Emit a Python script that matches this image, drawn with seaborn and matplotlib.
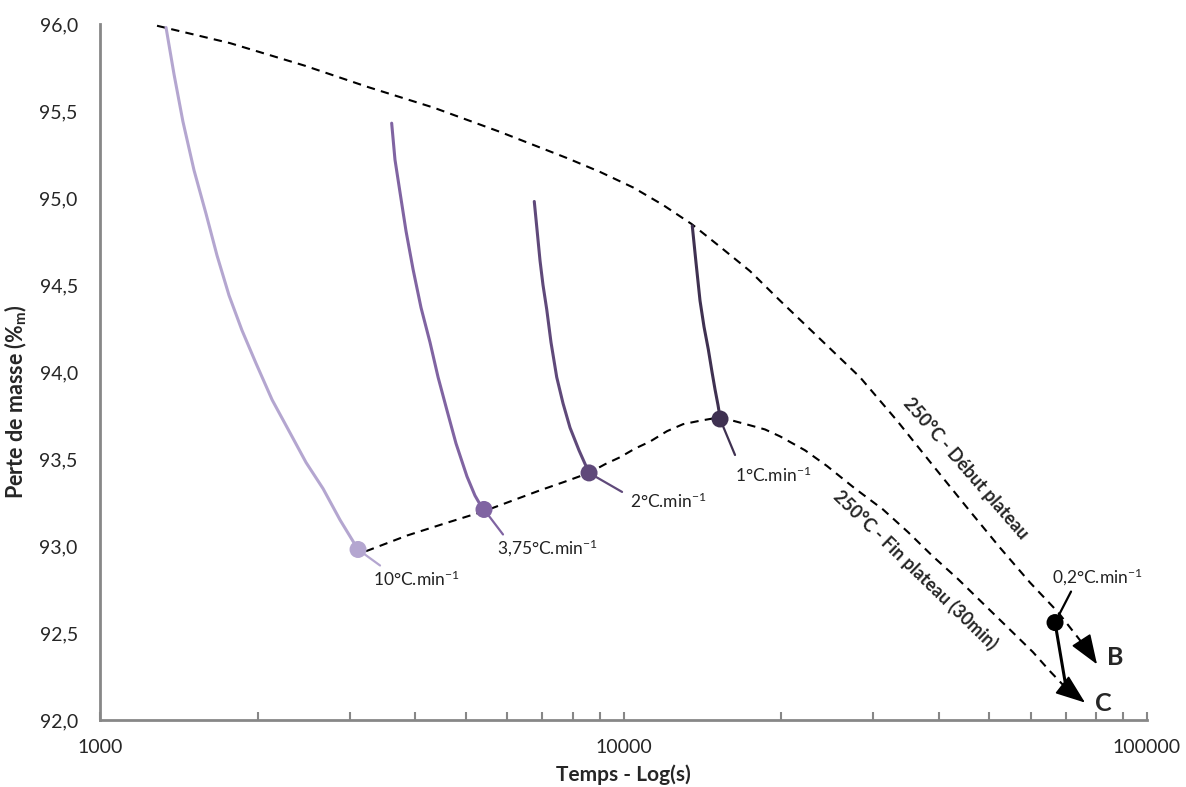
import pandas as pd
import seaborn as sns
import matplotlib.pyplot as plt
from matplotlib.ticker import FixedLocator, LogLocator, NullFormatter

# Heating curves (time in s, mass in %)
t_10 = [1337, 1385, 1440, 1512, 1594, 1673, 1764, 1867, 1986, 2132, 2307,
        2475, 2667, 2874, 3111]
m_10 = [95.98, 95.71, 95.44, 95.16, 94.91, 94.67, 94.44, 94.24, 94.05, 93.84,
        93.65, 93.48, 93.33, 93.15, 92.98]
t_375 = [3607, 3660, 3743, 3842, 3963, 4104, 4270, 4424, 4600, 4786, 5023,
         5203, 5414]
m_375 = [95.43, 95.22, 95.03, 94.81, 94.59, 94.37, 94.17, 93.97, 93.78, 93.59,
         93.40, 93.29, 93.20]
t_2 = [6754, 6835, 6927, 7018, 7134, 7270, 7455, 7664, 7904, 8222, 8594]
m_2 = [94.98, 94.82, 94.64, 94.50, 94.36, 94.17, 93.97, 93.82, 93.68, 93.55,
       93.42]
t_1 = [13532, 13755, 14001, 14249, 14521, 14760, 14956, 15154, 15288]
m_1 = [94.84, 94.63, 94.41, 94.26, 94.13, 94.00, 93.90, 93.81, 93.74]
t_02 = [66730, 70020]
m_02 = [92.56, 92.19]

# 250°C - start of plateau
debut_t = [1285, 1772, 2464, 3232, 4332, 5809, 7792, 9019, 10440, 11898,
           13500, 15288, 17443, 19910, 23740, 28300, 33310, 39070, 45330,
           52390, 59770, 67600, 77140]
debut_m = [95.99, 95.89, 95.76, 95.64, 95.52, 95.38, 95.23, 95.15, 95.06,
           94.96, 94.85, 94.72, 94.58, 94.41, 94.19, 93.97, 93.72, 93.46,
           93.22, 92.99, 92.79, 92.62, 92.40]
debut_tip = (80260, 92.32)

# 250°C - end of plateau (30 min)
fin_t = [3222, 3858, 4560, 5414, 6124, 6927, 7732, 8594, 9220, 9847, 10520,
         11235, 12110, 12990, 14001, 15288, 17140, 18630, 19910, 22220, 24470,
         27690, 31310, 34950, 39010, 43550, 48610, 54270, 60560, 65280, 69710]
fin_m = [92.97, 93.06, 93.13, 93.20, 93.26, 93.32, 93.37, 93.42, 93.47, 93.51,
         93.56, 93.60, 93.66, 93.70, 93.72, 93.74, 93.70, 93.67, 93.63, 93.55,
         93.46, 93.33, 93.21, 93.08, 92.94, 92.81, 92.67, 92.53, 92.39, 92.28,
         92.19]
fin_tip = (76140, 92.10)

rates = ['10', '3,75', '2', '1', '0,2']
rate_t = [3111, 5414, 8594, 15289, 66730]
rate_m = [92.98, 93.21, 93.42, 93.73, 92.56]
colors = ['#b4a6d0', '#8064a2', '#5f497a', '#3f3151', '#000000']

y_ticks = [92.0, 92.5, 93.0, 93.5, 94.0, 94.5, 95.0, 95.5, 96.0]
y_labels = ['92,0', '92,5', '93,0', '93,5', '94,0', '94,5', '95,0', '95,5', '96,0']
x_ticks = [1000, 10000, 100000]
x_labels = ['1000', '10000', '100000']

sns.set_theme(style='white')
plt.rcParams['font.family'] = ['Lato', 'DejaVu Sans']
plt.rcParams['mathtext.fontset'] = 'custom'
plt.rcParams['mathtext.rm'] = 'Lato'
plt.rcParams['mathtext.it'] = 'Lato:italic'
plt.rcParams['mathtext.bf'] = 'Lato:bold'

# long table for the heating curves
curves = [(t_10, m_10), (t_375, m_375), (t_2, m_2), (t_1, m_1), (t_02, m_02)]
rows = []
for r, (ts, ms) in zip(rates, curves):
    for t, m in zip(ts, ms):
        rows.append({'rate': r, 't': t, 'm': m})
df = pd.DataFrame(rows)

fig = plt.figure(figsize=(11.86, 7.87), dpi=100)
ax = fig.add_axes([100 / 1186, 1 - 720 / 787, 1047 / 1186, 696 / 787])

# dashed plateau lines
for ts, ms in [(debut_t, debut_m), (fin_t, fin_m)]:
    sns.lineplot(x=ts, y=ms, ax=ax, sort=False, estimator=None, color='black',
                 lw=1.5, linestyle=(0, (4, 3)))

for tip, ts, ms in [(debut_tip, debut_t, debut_m), (fin_tip, fin_t, fin_m)]:
    ax.annotate('', xy=tip, xytext=(ts[-1], ms[-1]),
                arrowprops=dict(arrowstyle='-|>,head_length=0.75,head_width=0.28',
                                mutation_scale=25, color='black', lw=1.2,
                                shrinkA=0, shrinkB=0))

# heating curves
pal = dict(zip(rates, colors))
sns.lineplot(data=df, x='t', y='m', hue='rate', palette=pal, units='rate',
             sort=False, estimator=None, lw=2.2, legend=False, ax=ax)

# points at the end of each heating
sns.scatterplot(x=rate_t, y=rate_m, hue=rates, palette=pal, s=150,
                edgecolor='none', legend=False, ax=ax, zorder=5)

# leader lines and labels (offsets in pixels)
leader = [(22, -16), (19, -25), (33, -19), (15, -36), (16, 31)]
text_off = [(15, -30), (13, -39), (41, -28), (15, -56), (-3, 45)]
for r, t, m, c, lo, to in zip(rates, rate_t, rate_m, colors, leader, text_off):
    ax.annotate('', xy=(t, m), xytext=lo, textcoords='offset pixels',
                arrowprops=dict(arrowstyle='-', color=c, lw=1.6,
                                shrinkA=0, shrinkB=0))
    ax.annotate(r + '°C.min$^{-1}$', xy=(t, m), xytext=to,
                textcoords='offset pixels', ha='left', va='center',
                fontsize=12.5, color='#222222')

ax.text(0.827, 0.361, '250°C - Début plateau', transform=ax.transAxes,
        rotation=-49, ha='center', va='center', fontsize=13, fontweight='bold',
        rotation_mode='anchor')
ax.text(0.779, 0.2155, '250°C - Fin plateau (30min)', transform=ax.transAxes,
        rotation=-44, ha='center', va='center', fontsize=13, fontweight='bold',
        rotation_mode='anchor')
ax.text(0.9694, 0.0905, 'B', transform=ax.transAxes, fontsize=18,
        fontweight='bold', ha='center', va='center')
ax.text(0.958, 0.0244, 'C', transform=ax.transAxes, fontsize=18,
        fontweight='bold', ha='center', va='center')

ax.set_xscale('log')
ax.set_xlim(1000, 100000)
ax.set_ylim(92, 96)
ax.xaxis.set_major_locator(FixedLocator(x_ticks))
ax.set_xticklabels(x_labels)
ax.xaxis.set_minor_locator(LogLocator(base=10, subs=range(2, 10)))
ax.xaxis.set_minor_formatter(NullFormatter())
ax.yaxis.set_major_locator(FixedLocator(y_ticks))
ax.set_yticklabels(y_labels)

ax.tick_params(axis='x', which='both', direction='in', length=6, width=1.5,
               color='#878787', labelsize=14, pad=14, bottom=True)
ax.tick_params(axis='y', length=0, labelsize=14, pad=16)
for s in ['top', 'right']:
    ax.spines[s].set_visible(False)
for s in ['left', 'bottom']:
    ax.spines[s].set_color('#878787')
    ax.spines[s].set_linewidth(2)

ax.set_xlabel('Temps - Log(s)', fontsize=15, fontweight='bold', labelpad=6)
ax.set_ylabel('Perte de masse (%$_\\mathbf{m}$)', fontsize=15.5,
              fontweight='bold')
ax.yaxis.set_label_coords(-0.068, 0.457)
ax.grid(False)

fig.savefig('out.png', dpi=100)
